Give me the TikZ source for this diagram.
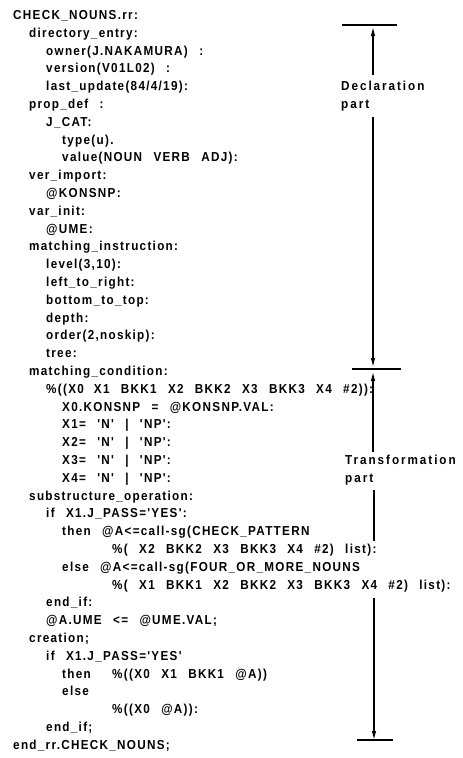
\documentclass[tikz,border=0pt]{standalone}
\usepackage{fontspec}
\newfontfamily\codefont{Liberation Sans}[Ligatures=TeXOff, FakeStretch=0.9,
  WordSpace=2.5, LetterSpace=10]
\newfontfamily\lblfont{Liberation Sans}[Ligatures=TeXOff, FakeStretch=0.9,
  LetterSpace=15]
\usetikzlibrary{arrows.meta}
\tikzset{
  code/.style = {anchor=base west, inner sep=0pt,
                 font=\codefont\bfseries\fontsize{13}{15}\selectfont},
  lbl/.style  = {anchor=base west, inner sep=0pt,
                 font=\lblfont\bfseries\fontsize{13}{15}\selectfont},
  arr/.style  = {-{Latex[length=9pt, width=4.5pt]}, line width=1.1pt},
  bar/.style  = {line width=1.1pt}
}

\begin{document}
\begin{tikzpicture}[x=1pt, y=-1pt]
  \useasboundingbox (0,0) rectangle (463,758);

  % ── Listing: row / left edge / text ──────────────────────────────────────
  \foreach \r/\x/\txt [count=\n] in {
      1/13/{CHECK\_NOUNS.rr:},
      2/29/{directory\_entry:},
      3/46/{owner(J.NAKAMURA) :},
      4/46/{version(V01L02) :},
      5/46/{last\_update(84/4/19):},
      6/29/{prop\_def :},
      7/46/{J\_CAT:},
      8/62/{type(u).},
      9/62/{value(NOUN VERB ADJ):},
      10/29/{ver\_import:},
      11/46/{@KONSNP:},
      12/29/{var\_init:},
      13/46/{@UME:},
      14/29/{matching\_instruction:},
      15/46/{level(3,10):},
      16/46/{left\_to\_right:},
      17/46/{bottom\_to\_top:},
      18/46/{depth:},
      19/46/{order(2,noskip):},
      20/46/{tree:},
      21/29/{matching\_condition:},
      22/46/{\%((X0\hspace{10pt}X1 BKK1 X2 BKK2 X3 BKK3 X4 \#2)):},
      23/62/{X0.KONSNP = @KONSNP.VAL:},
      24/62/{X1= 'N' | 'NP':},
      25/62/{X2= 'N' | 'NP':},
      26/62/{X3= 'N' | 'NP':},
      27/62/{X4= 'N' | 'NP':},
      28/29/{substructure\_operation:},
      29/46/{if X1.J\_PASS='YES':},
      30/62/{then @A<=call-sg(CHECK\_PATTERN},
      31/112/{\%( X2 BKK2 X3 BKK3 X4 \#2) list):},
      32/62/{else @A<=call-sg(FOUR\_OR\_MORE\_NOUNS},
      33/112/{\%( X1 BKK1 X2 BKK2 X3 BKK3 X4 \#2) list):},
      34/46/{end\_if:},
      35/46/{@A.UME <= @UME.VAL;},
      36/29/{creation;},
      37/46/{if X1.J\_PASS='YES'},
      38/62/{then},
      38/112/{\%((X0 X1 BKK1 @A))},
      39/62/{else},
      40/112/{\%((X0 @A)):},
      41/46/{end\_if;},
      42/13/{end\_rr.CHECK\_NOUNS;}}
    \node[code] (L\n) at (\x, 19.5+17.8*\r-17.8) {\txt};

  % ── Declaration part ─────────────────────────────────────────────────────
  \coordinate (DecBar) at (373,25);
  \node[lbl] (Decl)     at (341,90.5)  {Declaration};
  \node[lbl] (DeclPart) at (341,108.3) {part};
  \draw[bar] ([xshift=-31pt]DecBar) -- ([xshift=24pt]DecBar);
  \draw[arr] ([yshift=6pt]Decl.north -| DecBar) -- ([yshift=-2pt]DecBar);

  % ── Boundary between the parts ───────────────────────────────────────────
  \coordinate (MidBar) at (373,369);
  \draw[bar] ([xshift=-21pt]MidBar) -- ([xshift=28pt]MidBar);
  \draw[arr] ([yshift=-6pt]DeclPart.south -| MidBar) -- ([yshift=2pt]MidBar);

  % ── Transformation part ──────────────────────────────────────────────────
  \node[lbl] (Trans)     at (345,464.5) {Transformation};
  \node[lbl] (TransPart) at (345,482.3) {part};
  \draw[arr] ([yshift=3pt]Trans.north -| MidBar) -- ([yshift=-3pt]MidBar);

  \coordinate (EndBar) at (374,740);
  \draw[bar] ([xshift=-17pt]EndBar) -- ([xshift=19pt]EndBar);
  \draw[bar] ([yshift=-5pt]TransPart.south -| EndBar)
             -- ([yshift=3pt]L31.north -| EndBar);
  \draw[arr] ([yshift=-6pt]L33.south -| EndBar) -- (EndBar);

\end{tikzpicture}
\end{document}
